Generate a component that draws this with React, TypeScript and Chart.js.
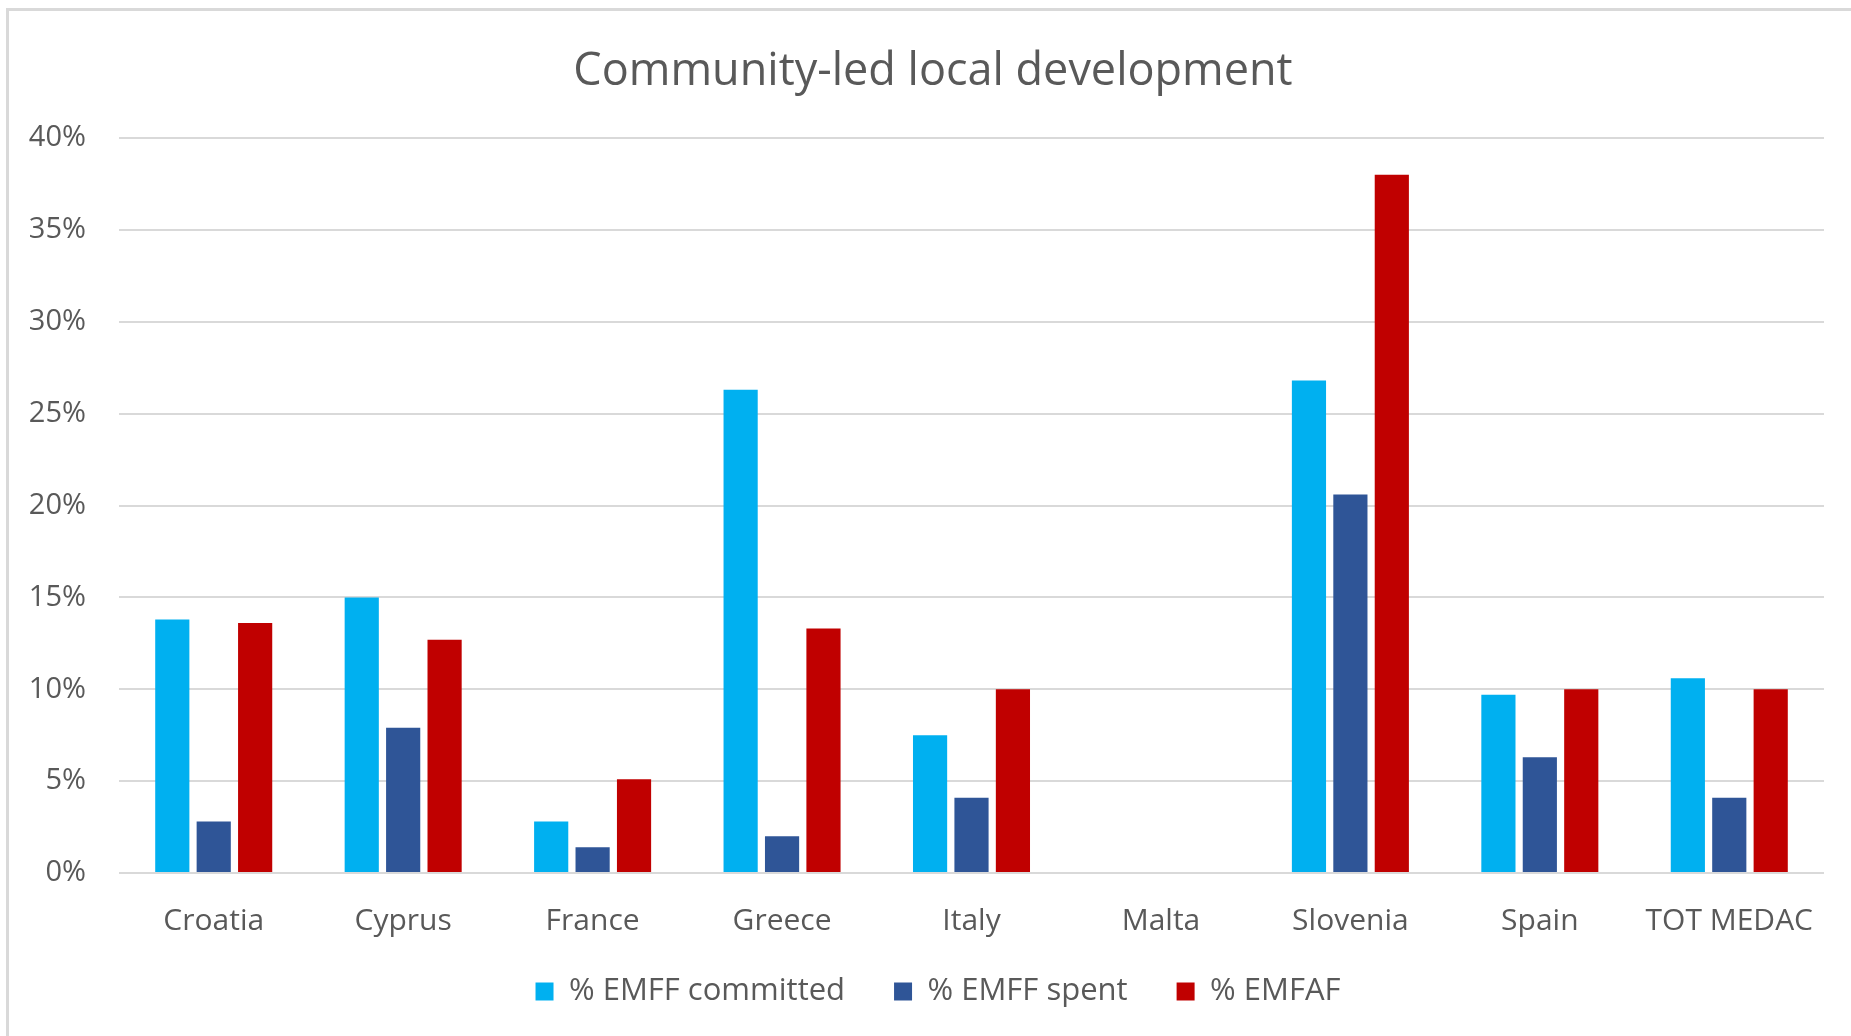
import React, { useEffect, useRef } from "react";
import { Chart, registerables } from "chart.js";

Chart.register(...registerables);

const categories = ["Croatia", "Cyprus", "France", "Greece", "Italy", "Malta", "Slovenia", "Spain", "TOT MEDAC"];
const emffCommitted = [13.8, 15.0, 2.8, 26.3, 7.5, 0, 26.8, 9.7, 10.6];
const emffSpent = [2.8, 7.9, 1.4, 2.0, 4.1, 0, 20.6, 6.3, 4.1];
const emfaf = [13.6, 12.7, 5.1, 13.3, 10.0, 0, 38.0, 10.0, 10.0];
const seriesLabels = ["% EMFF committed", "% EMFF spent", "% EMFAF"];
const titleText = "Community-led local development";

const W = 1851;
const H = 1036;
const FONT = "'Open Sans', 'Liberation Sans', sans-serif";
const TEXT = "#595959";

// small layout nudges for the title and legend blocks (Excel-like placement)
const nudgePlugin = {
  id: "nudge",
  afterLayout(chart: any) {
    const t = chart.titleBlock;
    if (t) {
      t.left += 21;
      t.right += 21;
    }
    const l = chart.legend;
    if (l) {
      l.top -= 12;
      l.bottom -= 12;
      l.left += 26;
      l.right += 26;
    }
  },
};

export default function App() {
  const ref = useRef<HTMLCanvasElement | null>(null);

  useEffect(() => {
    if (!ref.current) return;
    const chart = new Chart(ref.current, {
      type: "bar",
      data: {
        labels: categories,
        datasets: [
          { label: seriesLabels[0], data: emffCommitted, backgroundColor: "#00B0F0", borderWidth: 0 },
          { label: seriesLabels[1], data: emffSpent, backgroundColor: "#2F5597", borderWidth: 0 },
          { label: seriesLabels[2], data: emfaf, backgroundColor: "#C00000", borderWidth: 0 },
        ],
      },
      plugins: [nudgePlugin],
      options: {
        responsive: false,
        animation: false,
        devicePixelRatio: 1,
        datasets: { bar: { categoryPercentage: 0.656, barPercentage: 0.825 } },
        layout: { padding: { left: 0, right: 27, top: 0, bottom: 7 } },
        plugins: {
          tooltip: { enabled: false },
          title: {
            display: true,
            text: titleText,
            color: TEXT,
            font: { family: FONT, size: 45, weight: "normal" },
            padding: { top: 45, bottom: 39 },
          },
          legend: {
            position: "bottom",
            labels: {
              color: TEXT,
              font: { family: FONT, size: 31 },
              boxWidth: 18,
              boxHeight: 18,
              padding: 49,
            },
          },
        },
        scales: {
          x: {
            grid: { display: false, drawTicks: false },
            border: { display: false },
            ticks: { color: TEXT, font: { family: FONT, size: 30 }, padding: 30, maxRotation: 0, autoSkip: false },
            afterFit: (s: any) => {
              s.height = 66;
            },
          },
          y: {
            min: 0,
            max: 40,
            grid: { color: "#d9d9d9", lineWidth: 2, drawTicks: false },
            border: { display: false },
            ticks: {
              stepSize: 5,
              color: TEXT,
              font: { family: FONT, size: 29 },
              padding: 33,
              callback: (v: any) => v + "%",
            },
            afterFit: (s: any) => {
              s.width = 119;
            },
          },
        },
      },
    });
    return () => chart.destroy();
  }, []);

  return (
    <div style={{ position: "absolute", left: 0, top: 0, width: W, height: H, background: "#fff", overflow: "hidden" }}>
      <div
        style={{
          position: "absolute",
          left: 6,
          top: 8,
          width: W - 6,
          height: H - 8,
          borderLeft: "3px solid #d9d9d9",
          borderTop: "3px solid #d9d9d9",
          boxSizing: "border-box",
        }}
      />
      <canvas ref={ref} width={W} height={H} style={{ position: "absolute", left: 0, top: 0, width: W, height: H }} />
    </div>
  );
}
